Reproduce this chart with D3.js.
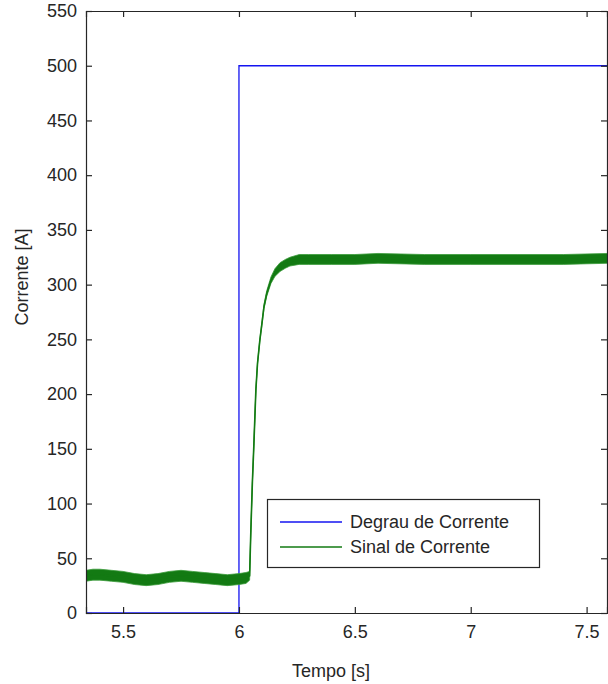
<!DOCTYPE html>
<html>
<head>
<meta charset="utf-8">
<script src="https://cdn.jsdelivr.net/npm/d3@7"></script>
<style>
  body { margin: 0; background: #fff; }
  svg text { font-family: "Liberation Sans", Arial, sans-serif; fill: #262626; }
</style>
</head>
<body>
<div id="chart"></div>
<script>
// step reference (Degrau de Corrente)
var stepTime = [5.34, 6.0, 7.59];
var stepValue = [0, 500, 500];

// measured signal (Sinal de Corrente): centre of the trace and half-width of the ripple band
var sigTime = [5.34, 5.37, 5.40, 5.45, 5.50, 5.55, 5.60, 5.65, 5.70, 5.75, 5.80, 5.85, 5.90, 5.95, 6.00, 6.03, 6.046,
    6.051, 6.058, 6.064, 6.073, 6.08, 6.09, 6.10, 6.108, 6.12, 6.138, 6.155, 6.177, 6.20, 6.22, 6.26,
    6.30, 6.40, 6.50, 6.60, 6.80, 7.00, 7.20, 7.40, 7.59];
var sigValue = [34, 35, 35, 34, 33, 31, 30, 31, 33, 34, 33, 32, 31, 30, 31, 32, 34,
    73, 120, 152, 204, 228, 249, 266, 280, 292, 304, 311, 316, 319, 321, 323,
    323, 323, 323, 324, 323, 323, 323, 323, 324];
var sigSpread = [5, 5, 5, 5, 5, 5, 5, 5, 5, 5, 5, 5, 5, 5, 5, 5, 4,
    1, 1, 1, 1, 1, 1, 1.5, 2, 2.5, 3, 3.5, 4, 4, 4, 4.5,
    4.5, 4.5, 4.5, 4.5, 4.5, 4.5, 4.5, 4.5, 4.5];

var xTicks = [5.5, 6, 6.5, 7, 7.5];
var yTicks = [0, 50, 100, 150, 200, 250, 300, 350, 400, 450, 500, 550];
var legendLabels = ["Degrau de Corrente", "Sinal de Corrente"];
var seriesColors = ["#1414f0", "#137a13"];

var W = 608, H = 684;
var pLeft = 86, pRight = 607, pTop = 11, pBottom = 613;

var svg = d3.select("#chart").append("svg")
    .attr("width", W)
    .attr("height", H);

var x = d3.scaleLinear().domain([5.34, 7.588]).range([pLeft, pRight]);
var y = d3.scaleLinear().domain([0, 550]).range([pBottom, pTop]);

svg.append("clipPath").attr("id", "plotclip")
    .append("rect")
    .attr("x", pLeft).attr("y", pTop)
    .attr("width", pRight - pLeft).attr("height", pBottom - pTop);

var plot = svg.append("g").attr("clip-path", "url(#plotclip)");

// step line
var stepData = stepTime.map(function (t, i) { return { t: t, v: stepValue[i] }; });
plot.append("path")
    .datum(stepData)
    .attr("fill", "none")
    .attr("stroke", seriesColors[0])
    .attr("stroke-width", 1.3)
    .attr("d", d3.line()
        .x(function (d) { return x(d.t); })
        .y(function (d) { return y(d.v); })
        .curve(d3.curveStepAfter));

// signal band + centre line
var sigData = sigTime.map(function (t, i) {
    return { t: t, v: sigValue[i], s: sigSpread[i] };
});
plot.append("path")
    .datum(sigData)
    .attr("fill", seriesColors[1])
    .attr("stroke", "#3a9a3a")
    .attr("stroke-width", 0.8)
    .attr("d", d3.area()
        .x(function (d) { return x(d.t); })
        .y0(function (d) { return y(d.v - d.s); })
        .y1(function (d) { return y(d.v + d.s); }));
plot.append("path")
    .datum(sigData)
    .attr("fill", "none")
    .attr("stroke", seriesColors[1])
    .attr("stroke-width", 1.6)
    .attr("d", d3.line()
        .x(function (d) { return x(d.t); })
        .y(function (d) { return y(d.v); }));

// axes
var tickLen = 6;
var fmtX = function (d) { return String(d); };

svg.append("g")
    .attr("transform", "translate(0," + pBottom + ")")
    .call(d3.axisBottom(x).tickValues(xTicks).tickSize(-tickLen).tickPadding(12).tickFormat(fmtX));
svg.append("g")
    .attr("transform", "translate(0," + pTop + ")")
    .call(d3.axisTop(x).tickValues(xTicks).tickSize(-tickLen).tickFormat(""));
svg.append("g")
    .attr("transform", "translate(" + pLeft + ",0)")
    .call(d3.axisLeft(y).tickValues(yTicks).tickSize(-tickLen).tickPadding(9));
svg.append("g")
    .attr("transform", "translate(" + pRight + ",0)")
    .call(d3.axisRight(y).tickValues(yTicks).tickSize(-tickLen).tickFormat(""));

svg.selectAll(".domain").attr("stroke", "#262626").attr("stroke-width", 1.2);
svg.selectAll(".tick line").attr("stroke", "#262626").attr("stroke-width", 1.2);
svg.selectAll(".tick text")
    .style("font-family", "'Liberation Sans', Arial, sans-serif")
    .style("font-size", "18px")
    .attr("fill", "#262626");

// axis titles
svg.append("text")
    .attr("x", 331)
    .attr("y", 677)
    .attr("text-anchor", "middle")
    .style("font-size", "18px")
    .text("Tempo [s]");
svg.append("text")
    .attr("transform", "translate(28,277) rotate(-90)")
    .attr("text-anchor", "middle")
    .style("font-size", "18px")
    .text("Corrente [A]");

// legend
var lg = svg.append("g");
lg.append("rect")
    .attr("x", 267.5).attr("y", 499.5)
    .attr("width", 272).attr("height", 68)
    .attr("fill", "#fff")
    .attr("stroke", "#262626")
    .attr("stroke-width", 1.2);
legendLabels.forEach(function (name, i) {
    var ly = 522 + i * 25;
    lg.append("line")
        .attr("x1", 280).attr("x2", 342)
        .attr("y1", ly).attr("y2", ly)
        .attr("stroke", seriesColors[i])
        .attr("stroke-width", 1.4);
    lg.append("text")
        .attr("x", 350)
        .attr("y", ly + 6)
        .style("font-size", "18px")
        .text(name);
});
</script>
</body>
</html>
